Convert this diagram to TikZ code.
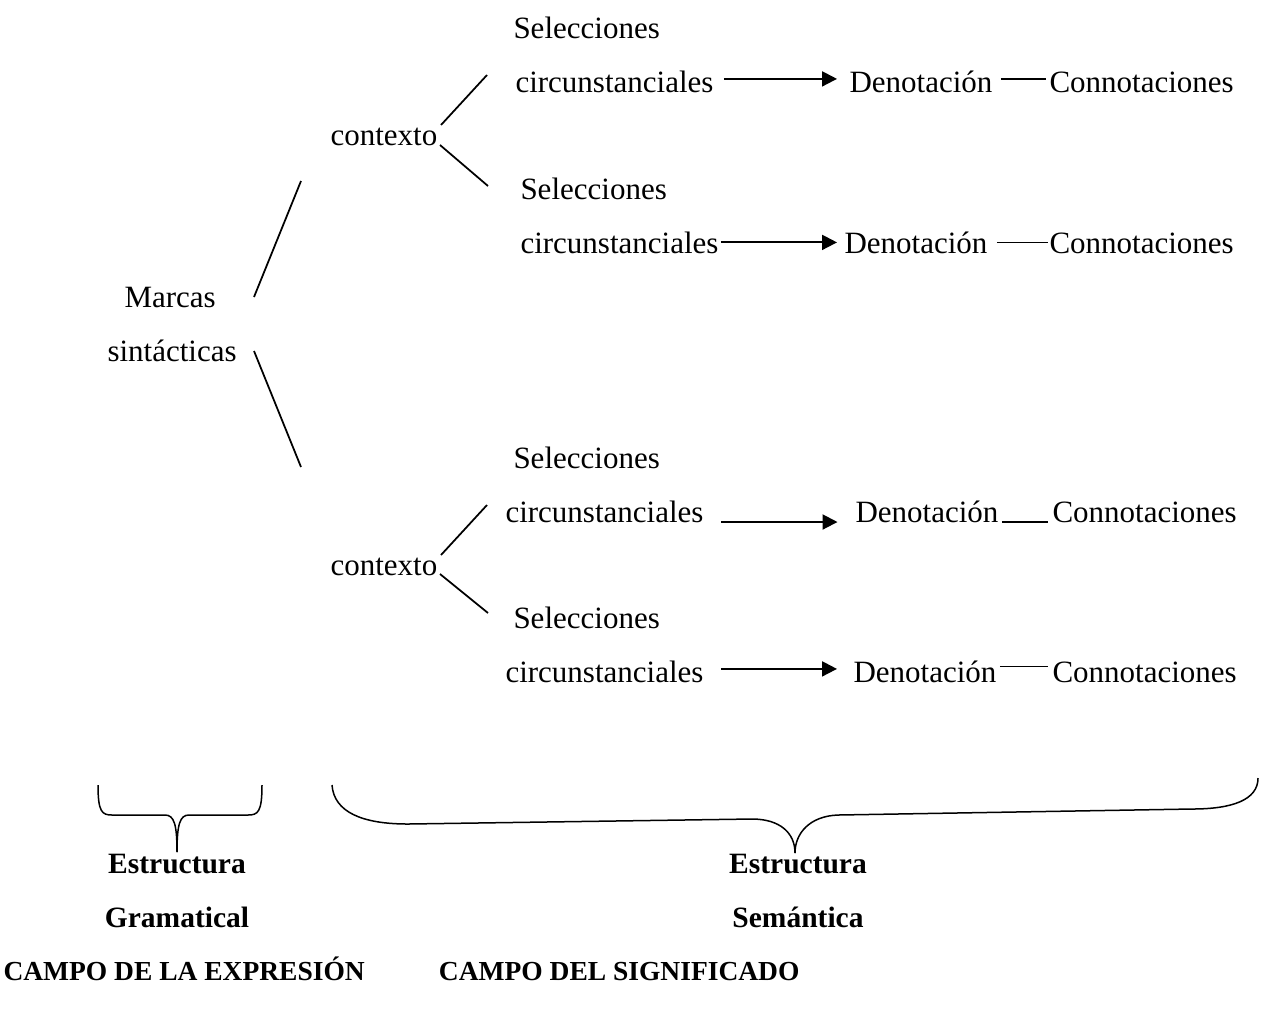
\documentclass[tikz,border=0pt]{standalone}
\usepackage{fontspec}
\setmainfont{Liberation Serif}
\usepackage{tikz}
\usetikzlibrary{
    arrows.meta,
    positioning
}
\tikzstyle{word} = [
    inner sep=0pt,
    anchor=base west
]
\tikzstyle{heading} = [
    inner sep=0pt,
    anchor=base,
    font=\fontsize{11.8}{14}\selectfont\bfseries
]
\tikzstyle{field} = [
    inner sep=0pt,
    font=\fontsize{11}{14}\selectfont\bfseries
]
\tikzstyle{arrow} = [
    line width=0.8pt,
    -{Triangle[length=6pt,width=6pt]}
]
\tikzstyle{branch} = [
    line width=0.7pt
]
\tikzstyle{brace} = [
    line width=0.6pt
]

\begin{document}
\begin{tikzpicture}[
	    x=0.4pt, y=-0.4pt,
	    font=\fontsize{12.4}{15}\selectfont
	]
	    \useasboundingbox (0,0) rectangle (1263,1008);

	    % marcas sintacticas
	    \node[word] (marcas) at (124,307) {Marcas};
	    \node[word] (sintac) at (107,361) {sintácticas};

	    % upper context
	    \node[word] (ctxA) at (330,145) {contexto};
	    \node[word] (selA) at (513,38)  {Selecciones};
	    \node[word] (cirA) at (515,92)  {circunstanciales};
	    \node[word] (denA) at (849,92)  {Denotación};
	    \node[word] (conA) at (1049,92) {Connotaciones};
	    \node[word] (selB) at (520,199) {Selecciones};
	    \node[word] (cirB) at (520,253) {circunstanciales};
	    \node[word] (denB) at (844,253) {Denotación};
	    \node[word] (conB) at (1049,253) {Connotaciones};

	    % lower context
	    \node[word] (ctxB) at (330,575) {contexto};
	    \node[word] (selC) at (513,468) {Selecciones};
	    \node[word] (cirC) at (505,522) {circunstanciales};
	    \node[word] (denC) at (855,522) {Denotación};
	    \node[word] (conC) at (1052,522) {Connotaciones};
	    \node[word] (selD) at (513,628) {Selecciones};
	    \node[word] (cirD) at (505,682) {circunstanciales};
	    \node[word] (denD) at (853,682) {Denotación};
	    \node[word] (conD) at (1052,682) {Connotaciones};

	    % branch ends
	    \coordinate (mUp)  at (254,297);
	    \coordinate (mUpE) at (301,181);
	    \coordinate (mLo)  at (254,351);
	    \coordinate (mLoE) at (301,467);
	    \coordinate (aUp)  at (441,125);
	    \coordinate (aUpE) at (487,75);
	    \coordinate (aLo)  at (440,145);
	    \coordinate (aLoE) at (488,186);
	    \coordinate (bUp)  at (441,555);
	    \coordinate (bUpE) at (487,505);
	    \coordinate (bLo)  at (440,574);
	    \coordinate (bLoE) at (488,613);

	    \draw[branch] (mUp) -- (mUpE);
	    \draw[branch] (mLo) -- (mLoE);
	    \draw[branch] (aUp) -- (aUpE);
	    \draw[branch] (aLo) -- (aLoE);
	    \draw[branch] (bUp) -- (bUpE);
	    \draw[branch] (bLo) -- (bLoE);

	    % arrows to denotacion
	    \draw[arrow, shorten <=4pt, shorten >=4.8pt] ([yshift=1pt]cirA.east) -- ([yshift=1pt]cirA.east -| denA.west);
	    \draw[arrow, shorten <=0.8pt, shorten >=2.8pt] (cirB.east) -- (cirB.east -| denB.west);
	    \draw[arrow, shorten <=7pt, shorten >=7pt] (cirC.base east) -- (cirC.base east -| denC.west);
	    \draw[arrow, shorten <=7pt, shorten >=6.4pt] ([yshift=1pt]cirD.east) -- ([yshift=1pt]cirD.east -| denD.west);

	    % lines to connotaciones
	    \draw[branch, shorten <=3.2pt, shorten >=1.2pt] ([yshift=1pt]denA.east) -- ([yshift=1pt]denA.east -| conA.west);
	    \draw[branch, shorten <=3.6pt, shorten >=0.4pt] (denB.east) -- (denB.east -| conB.west);
	    \draw[arrow, -, shorten <=1.2pt, shorten >=1.6pt] (denC.base east) -- (denC.base east -| conC.west);
	    \draw[branch, shorten <=1.2pt, shorten >=1.6pt] ([yshift=2pt]denD.east) -- ([yshift=2pt]denD.east -| conD.west);

	    % braces
	    \draw[brace] (98,785) .. controls (98,812) and (102,815) .. (112,815)
	        -- (165,815) .. controls (174,815) and (177,824) .. (177,852);
	    \draw[brace] (262,785) .. controls (262,812) and (258,815) .. (248,815)
	        -- (189,815) .. controls (180,815) and (177,824) .. (177,852);
	    \draw[brace] (332,785) .. controls (334,812) and (362,824) .. (408,824)
	        -- (752,819) .. controls (780,819) and (795,833) .. (795,853);
	    \draw[brace] (1258,778) .. controls (1258,800) and (1232,809) .. (1192,809)
	        -- (838,815) .. controls (810,816) and (795,833) .. (795,853);

	    % field labels
	    \node[heading] (estG) at (177,873) {Estructura};
	    \node[heading] (gram) at (177,927) {Gramatical};
	    \node[field, anchor=base west] (campE) at (3,980) {CAMPO DE LA EXPRESIÓN};
	    \node[heading] (estS) at (798,873) {Estructura};
	    \node[heading] (sema) at (798,927) {Semántica};
	    \node[field, anchor=base east] (campS) at (800,980) {CAMPO DEL SIGNIFICADO};
	\end{tikzpicture}
\end{document}
